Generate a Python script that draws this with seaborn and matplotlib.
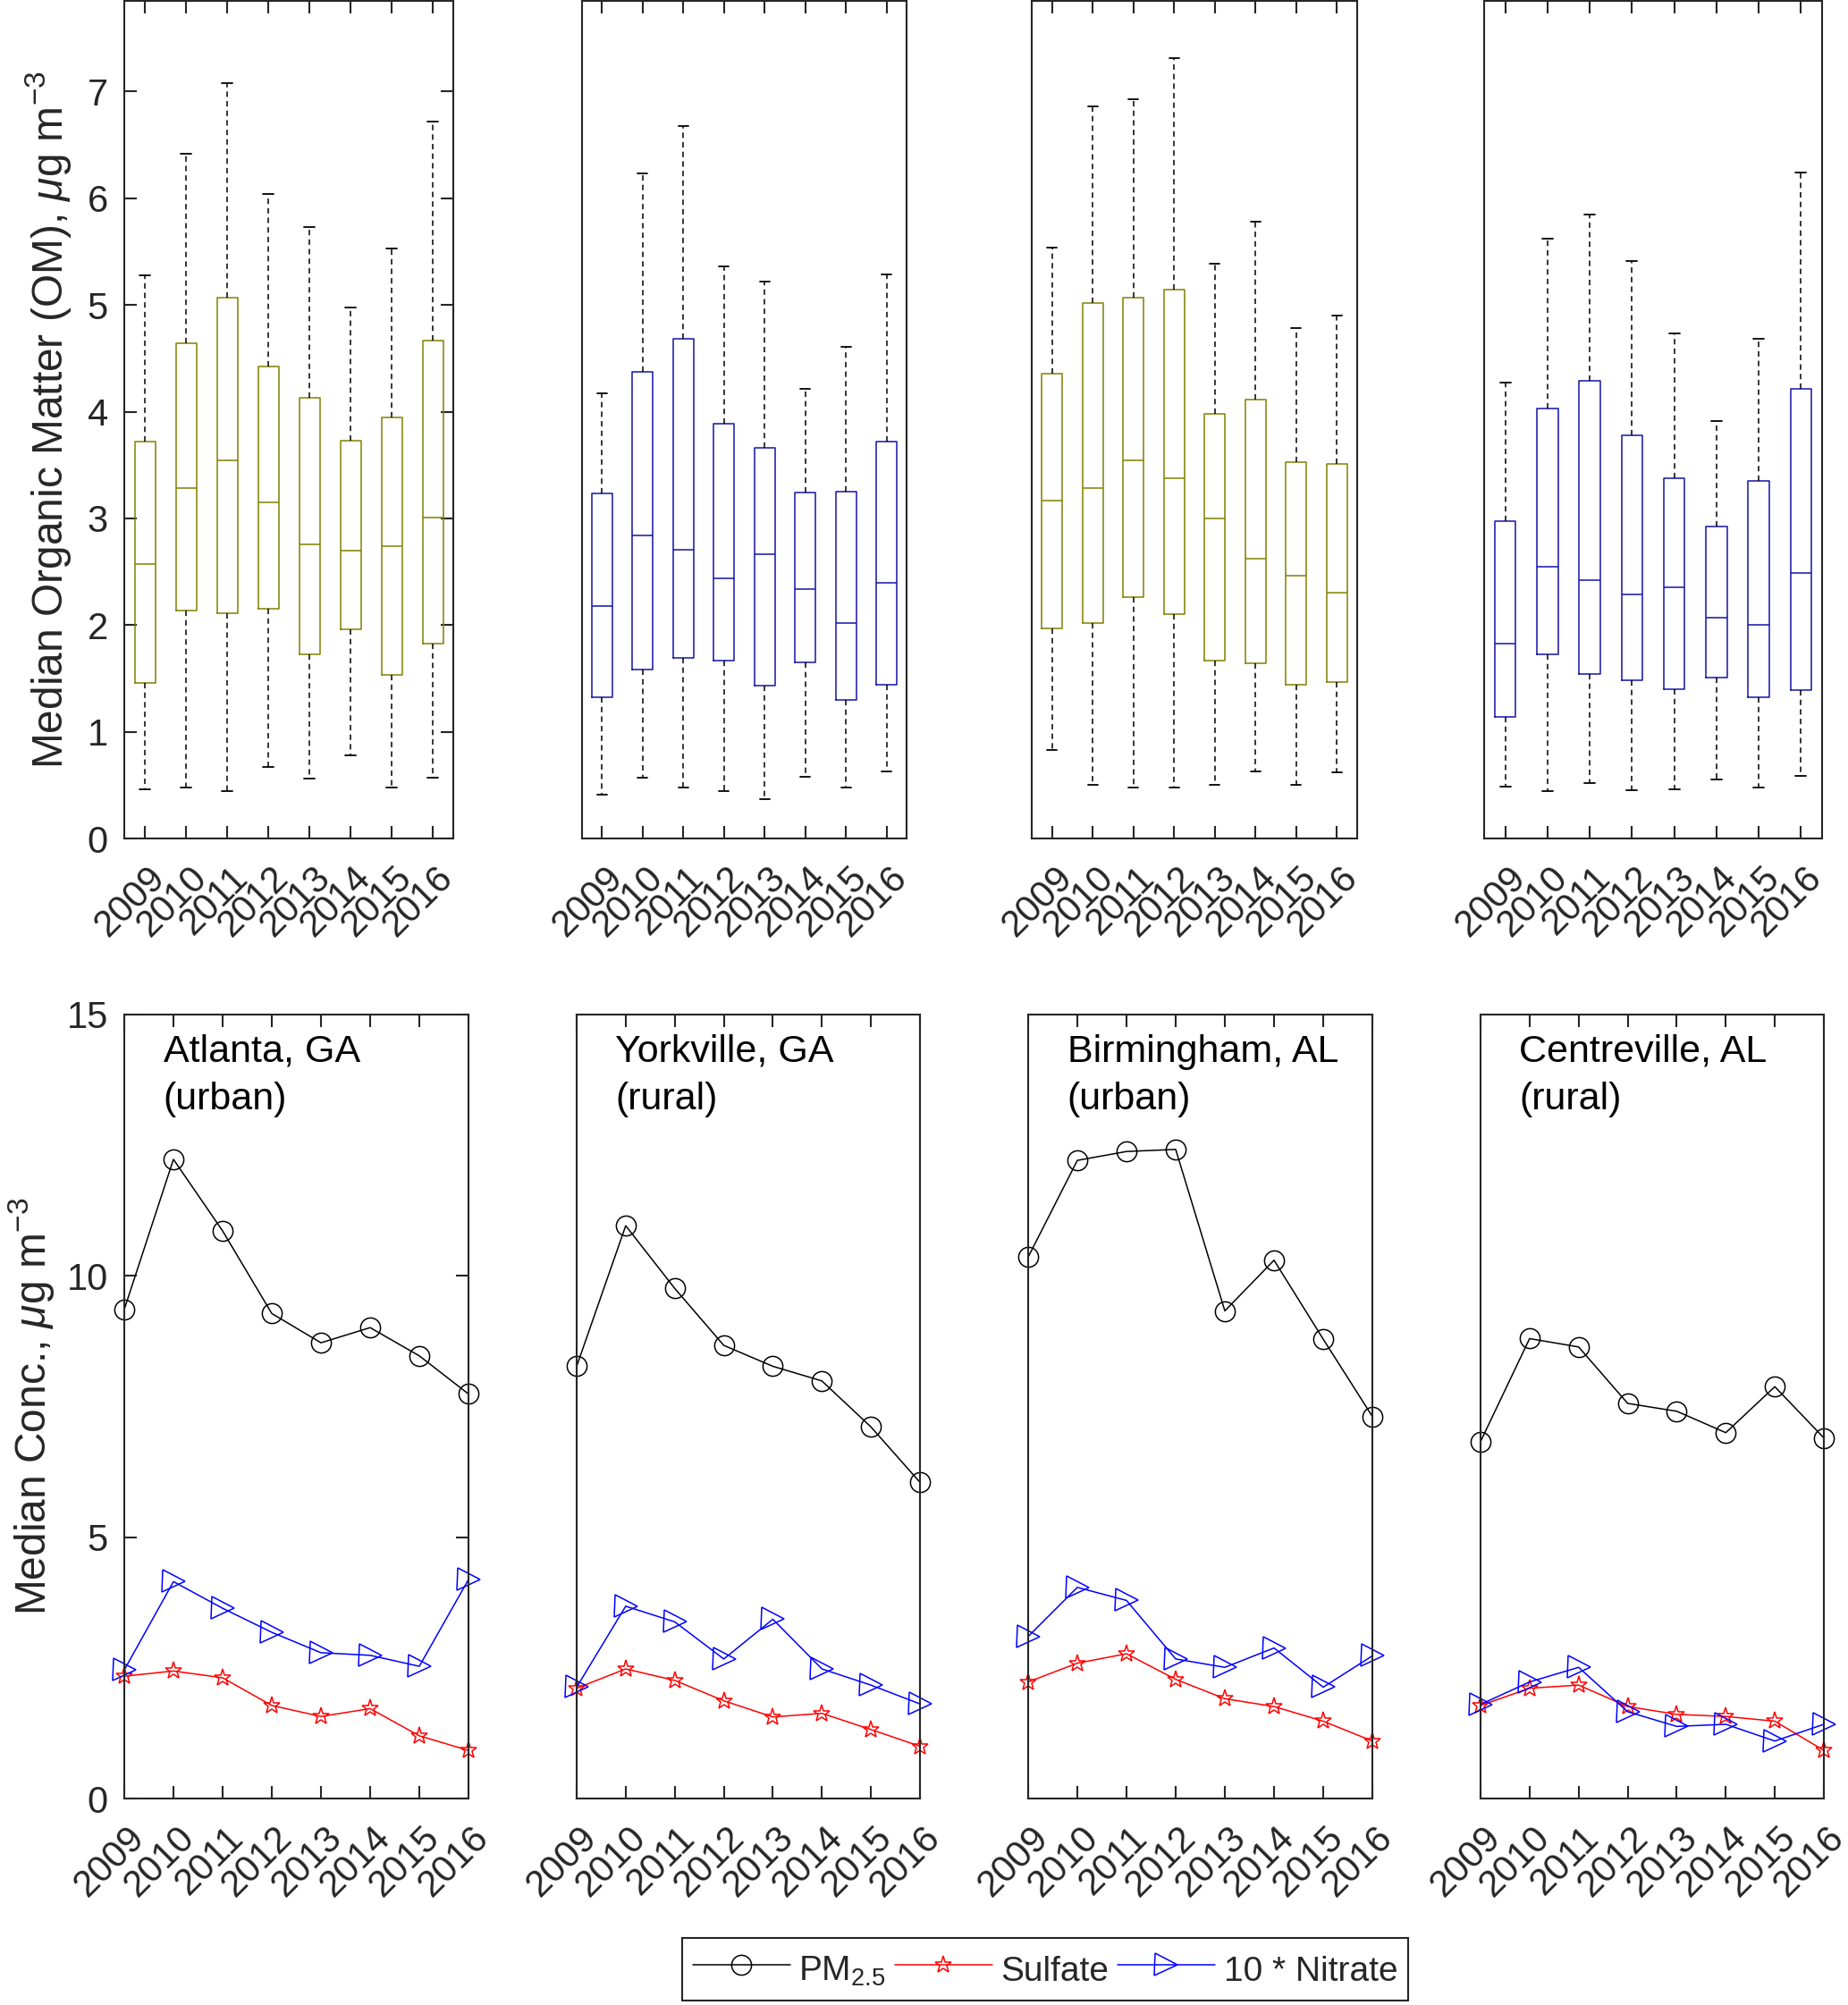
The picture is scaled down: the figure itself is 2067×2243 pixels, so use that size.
import numpy as np
import pandas as pd
import matplotlib
matplotlib.use("Agg")
import matplotlib.pyplot as plt
import matplotlib.transforms as mtrans
import seaborn as sns

# ---------------- data ----------------
years = [2009, 2010, 2011, 2012, 2013, 2014, 2015, 2016]
year_labels = [str(y) for y in years]

# Top row: Organic matter box statistics (whisker low, Q1, median, Q3, whisker high)
atl_om_low = [0.46, 0.48, 0.44, 0.67, 0.56, 0.78, 0.48, 0.57]
atl_om_q1 = [1.46, 2.14, 2.11, 2.15, 1.73, 1.96, 1.53, 1.83]
atl_om_med = [2.57, 3.28, 3.54, 3.15, 2.76, 2.70, 2.74, 3.01]
atl_om_q3 = [3.72, 4.64, 5.07, 4.42, 4.13, 3.73, 3.95, 4.67]
atl_om_high = [5.28, 6.42, 7.08, 6.04, 5.73, 4.98, 5.53, 6.72]

york_om_low = [0.41, 0.57, 0.48, 0.44, 0.37, 0.58, 0.48, 0.63]
york_om_q1 = [1.32, 1.58, 1.69, 1.67, 1.43, 1.65, 1.30, 1.44]
york_om_med = [2.18, 2.84, 2.71, 2.44, 2.66, 2.34, 2.02, 2.40]
york_om_q3 = [3.23, 4.37, 4.68, 3.89, 3.66, 3.24, 3.25, 3.72]
york_om_high = [4.17, 6.23, 6.68, 5.36, 5.22, 4.21, 4.61, 5.29]

bham_om_low = [0.83, 0.50, 0.48, 0.48, 0.50, 0.63, 0.50, 0.62]
bham_om_q1 = [1.97, 2.02, 2.26, 2.10, 1.67, 1.64, 1.44, 1.47]
bham_om_med = [3.17, 3.28, 3.54, 3.38, 3.00, 2.62, 2.46, 2.30]
bham_om_q3 = [4.36, 5.02, 5.07, 5.14, 3.98, 4.11, 3.53, 3.51]
bham_om_high = [5.54, 6.86, 6.93, 7.31, 5.39, 5.78, 4.78, 4.90]

ctr_om_low = [0.49, 0.44, 0.52, 0.45, 0.46, 0.55, 0.48, 0.59]
ctr_om_q1 = [1.14, 1.73, 1.54, 1.48, 1.40, 1.51, 1.32, 1.39]
ctr_om_med = [1.83, 2.55, 2.42, 2.29, 2.35, 2.07, 2.00, 2.49]
ctr_om_q3 = [2.97, 4.03, 4.29, 3.78, 3.38, 2.92, 3.35, 4.21]
ctr_om_high = [4.27, 5.62, 5.85, 5.41, 4.73, 3.91, 4.68, 6.24]

# Bottom row: median concentrations
atl_pm = [9.36, 12.23, 10.86, 9.28, 8.72, 9.01, 8.47, 7.74]
atl_so4 = [2.34, 2.44, 2.31, 1.78, 1.57, 1.72, 1.20, 0.92]
atl_no3x10 = [2.46, 4.15, 3.64, 3.18, 2.79, 2.74, 2.53, 4.19]

york_pm = [8.27, 10.96, 9.76, 8.67, 8.27, 7.99, 7.11, 6.05]
york_so4 = [2.11, 2.48, 2.26, 1.87, 1.56, 1.63, 1.32, 1.00]
york_no3x10 = [2.13, 3.68, 3.38, 2.67, 3.43, 2.48, 2.17, 1.81]

bham_pm = [10.36, 12.21, 12.38, 12.42, 9.33, 10.30, 8.79, 7.31]
bham_so4 = [2.23, 2.59, 2.77, 2.28, 1.91, 1.76, 1.48, 1.10]
bham_no3x10 = [3.10, 4.04, 3.79, 2.67, 2.51, 2.88, 2.13, 2.73]

ctr_pm = [6.83, 8.80, 8.64, 7.56, 7.41, 7.00, 7.88, 6.90]
ctr_so4 = [1.78, 2.11, 2.17, 1.76, 1.61, 1.57, 1.48, 0.92]
ctr_no3x10 = [1.80, 2.23, 2.51, 1.66, 1.38, 1.42, 1.10, 1.42]

site_labels = ["Atlanta, GA\n(urban)", "Yorkville, GA\n(rural)",
               "Birmingham, AL\n(urban)", "Centreville, AL\n(rural)"]
series_labels = [r"PM$_{2.5}$", "Sulfate", "10 * Nitrate"]

om_stats = [
    (atl_om_low, atl_om_q1, atl_om_med, atl_om_q3, atl_om_high),
    (york_om_low, york_om_q1, york_om_med, york_om_q3, york_om_high),
    (bham_om_low, bham_om_q1, bham_om_med, bham_om_q3, bham_om_high),
    (ctr_om_low, ctr_om_q1, ctr_om_med, ctr_om_q3, ctr_om_high),
]
conc = [
    (atl_pm, atl_so4, atl_no3x10),
    (york_pm, york_so4, york_no3x10),
    (bham_pm, bham_so4, bham_no3x10),
    (ctr_pm, ctr_so4, ctr_no3x10),
]

# ---------------- style ----------------
sns.set_theme(style="ticks")
plt.rcParams["font.family"] = ["Liberation Sans", "DejaVu Sans"]
plt.rcParams["mathtext.fontset"] = "custom"
plt.rcParams["mathtext.rm"] = "Liberation Sans"
plt.rcParams["mathtext.it"] = "Liberation Sans:italic"
plt.rcParams["mathtext.bf"] = "Liberation Sans:bold"

AX_COLOR = "#262626"
box_colors = ["#808000", "#1414A8", "#808000", "#1414A8"]
TICK_FS = 30
LABEL_FS = 34.5

W, H = 2067, 2243
fig = plt.figure(figsize=(W / 100, H / 100), dpi=100)
label_offset = mtrans.ScaledTranslation(3 / 100, -7 / 100, fig.dpi_scale_trans)


def px_axes(left, top, width, height):
    return fig.add_axes([left / W, 1 - (top + height) / H, width / W, height / H])


top_pos = [(139, 368), (650.5, 364), (1154, 364), (1660, 378)]
bot_pos = [(139, 385), (645, 384), (1150, 385), (1656, 384)]
TOP_Y0, TOP_Y1 = 1, 938
BOT_Y0, BOT_Y1 = 1135, 2012


def style_axes(ax, first):
    for s in ax.spines.values():
        s.set_color(AX_COLOR)
        s.set_linewidth(1.5)
    ax.tick_params(direction="in", length=10, width=1.5, color=AX_COLOR,
                   top=True, right=first, left=first, labelleft=first,
                   labelsize=TICK_FS, labelcolor="#262626")
    ax.tick_params(axis="y", pad=13)
    ax.tick_params(axis="x", pad=12)
    if not first:
        ax.set_yticks([])
    for lab in ax.get_xticklabels():
        lab.set_rotation(45)
        lab.set_ha("right")
        lab.set_va("top")
        lab.set_rotation_mode("anchor")
        lab.set_transform(lab.get_transform() + label_offset)


# ---------------- top row: box plots ----------------
for i, (stats, (l, w)) in enumerate(zip(om_stats, top_pos)):
    ax = px_axes(l, TOP_Y0, w, TOP_Y1 - TOP_Y0)
    rows = []
    for j, yl in enumerate(year_labels):
        for k in range(5):
            rows.append({"year": yl, "om": stats[k][j]})
    df = pd.DataFrame(rows)
    c = box_colors[i]
    sns.boxplot(data=df, x="year", y="om", order=year_labels, ax=ax,
                whis=(0, 100), fill=False, color=c, linecolor=c, saturation=1,
                width=0.5, linewidth=1.1, showfliers=False,
                boxprops=dict(color=c, linewidth=1.1),
                medianprops=dict(color=c, linewidth=1.1),
                whiskerprops=dict(color="black", linestyle=(0, (4, 3)), linewidth=1.1),
                capprops=dict(color="black", linewidth=1.3))
    ax.set_xlim(-0.5, 7.5)
    ax.set_ylim(0, 7.85)
    ax.set_xticks(range(len(year_labels)))
    ax.set_xticklabels(year_labels)
    ax.set_yticks(range(0, 8))
    ax.set_xlabel("")
    ax.set_ylabel("")
    style_axes(ax, i == 0)
    if i == 0:
        ax.set_ylabel(r"Median Organic Matter (OM), $\mu$g m$^{-3}$", fontsize=LABEL_FS,
                      color="#262626")
        ax.yaxis.set_label_coords(-0.155, 0.5)

# ---------------- bottom row: line plots ----------------
line_styles = [
    dict(color="black", marker="o", markersize=16),
    dict(color="red", marker="*", markersize=14),
    dict(color="blue", marker=">", markersize=18),
]
legend_handles = None
for i, (series, (l, w)) in enumerate(zip(conc, bot_pos)):
    ax = px_axes(l, BOT_Y0, w, BOT_Y1 - BOT_Y0)
    for vals, st in zip(series, line_styles):
        sns.lineplot(x=years, y=vals, ax=ax, color=st["color"], marker=st["marker"],
                     markersize=st["markersize"], markerfacecolor="none",
                     markeredgecolor=st["color"], markeredgewidth=1.1,
                     linewidth=1.1, errorbar=None, legend=False, clip_on=False)
    ax.set_xlim(2009, 2016)
    ax.set_ylim(0, 15)
    ax.set_xticks(years)
    ax.set_xticklabels(year_labels)
    ax.set_yticks([0, 5, 10, 15])
    ax.set_xlabel("")
    ax.set_ylabel("")
    style_axes(ax, i == 0)
    ax.text(0.113, 0.975, site_labels[i], transform=ax.transAxes, ha="left", va="top",
            fontsize=31, color="black", linespacing=1.43)
    if i == 0:
        ax.set_ylabel(r"Median Conc., $\mu$g m$^{-3}$", fontsize=LABEL_FS, color="#262626")
        ax.yaxis.set_label_coords(-0.198, 0.5)
        legend_handles = list(ax.get_lines()[:3])

for h, lab in zip(legend_handles, series_labels):
    h.set_label(lab)
leg = fig.legend(handles=legend_handles, labels=series_labels, loc="center",
                 bbox_to_anchor=(1169 / W, 1 - 2203 / H), ncol=3, frameon=True,
                 fancybox=False, edgecolor=AX_COLOR, fontsize=28, handlelength=2.8,
                 handleheight=1.5, columnspacing=0.25, handletextpad=0.25,
                 borderpad=0.3, borderaxespad=0, framealpha=1)
leg.get_frame().set_linewidth(1.5)

fig.savefig("out.png", dpi=100, facecolor="white")
